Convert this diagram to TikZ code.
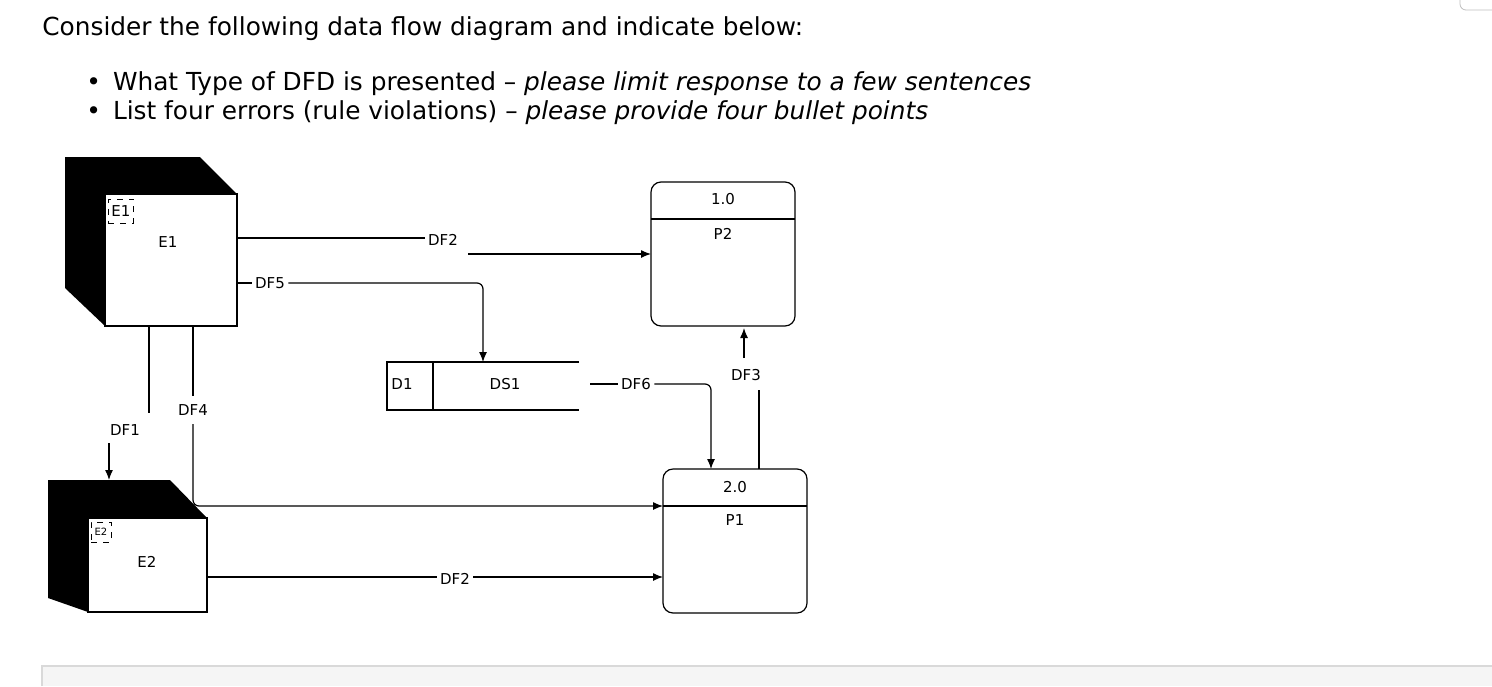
\documentclass[tikz,border=0pt]{standalone}
\usepackage{fontspec}
\setmainfont{DejaVu Sans}
\usetikzlibrary{arrows.meta}
\tikzset{
  flow/.style={line width=0.6pt,rounded corners=3},
  lbl/.style={font=\fontsize{7.5}{8}\selectfont,inner sep=1.5pt},
  proc/.style={draw,line width=0.6pt,rounded corners=5},
  hdr/.style={anchor=base west,inner sep=0,font=\fontsize{12.4}{14}\selectfont},
}
\begin{document}
\begin{tikzpicture}[x=0.5pt,y=-0.5pt,>={Latex[length=5pt,width=4pt]}]
\useasboundingbox (0,0) rectangle (1492,686);
%the header text
    \node[hdr] (q) at (42,35) {Consider the following data flow diagram and indicate below:};
    \node[hdr] (b1) at (86,90) {\textbullet\hspace{6pt}What Type of DFD is presented -- \textit{please limit response to a few sentences}};
    \node[hdr] (b2) at (86,119) {\textbullet\hspace{6pt}List four errors (rule violations) -- \textit{please provide four bullet points}};
% the toolbar
    \fill[gray!8] (42,666) rectangle (1492,686);
    \draw[gray!30,line width=1.2pt] (42,686) -- (42,666) -- (1492,666);
    \draw[gray!50,rounded corners=3] (1460,-5) -- (1460,10) -- (1495,10);
% the externals
    \fill (65,157) -- (200,157) -- (237,194) -- (105,194) -- (105,326) -- (65,288) -- cycle;
    \draw[line width=0.6pt] (105,194) rectangle (237,326);
    \node[draw,dashed,thin,lbl,minimum size=12pt] (e1tag) at (121,211) {E1};
    \node[lbl] (e1) at (168,242) {E1};
    \fill (48,480) -- (170,480) -- (207,518) -- (88,518) -- (88,612) -- (48,598) -- cycle;
    \draw[line width=0.6pt] (88,518) rectangle (207,612);
    \node[draw,dashed,thin,lbl,minimum size=10pt,font=\fontsize{5}{5}\selectfont] (e2tag) at (101,532) {E2};
    \node[lbl] (e2) at (147,562) {E2};
% the processes
    \draw[proc] (651,182) rectangle (795,326);
    \draw[line width=0.6pt] (651,219) -- (795,219);
    \node[lbl] (p2n) at (723,199) {1.0};
    \node[lbl] (p2) at (723,234) {P2};
    \draw[proc] (663,469) rectangle (807,613);
    \draw[line width=0.6pt] (663,506) -- (807,506);
    \node[lbl] (p1n) at (735,487) {2.0};
    \node[lbl] (p1) at (735,520) {P1};
% the store
    \draw[line width=0.6pt] (579,362) -- (387,362) -- (387,410) -- (579,410);
    \draw[line width=0.6pt] (433,362) -- (433,410);
    \node[lbl] (d1) at (402,384) {D1};
    \node[lbl] (ds1) at (505,384) {DS1};
% the flows
    \node[lbl] (df2a) at (443,240) {DF2};
    \draw[flow] (237,238) -- (df2a.west |- 0,238);
    \draw[flow,->] (468,254) -- (651,254);
    \node[lbl] (df5) at (270,283) {DF5};
    \draw[flow] (237,283) -- (df5.west);
    \draw[flow,->] (df5.east) -- (483,283) -- (483,362);
    \node[lbl] (df6) at (636,384) {DF6};
    \draw[flow] (590,384) -- (df6.west);
    \draw[flow,->] (df6.east) -- (711,384) -- (711,469);
    \node[lbl] (df3) at (746,375) {DF3};
    \draw[flow] (759,469) -- (759,390);
    \draw[flow,->] (744,358) -- (744,328);
    \node[lbl] (df1) at (125,430) {DF1};
    \draw[flow] (149,326) -- (149,413);
    \draw[flow,->] (109,443) -- (109,480);
    \node[lbl] (df4) at (193,410) {DF4};
    \draw[flow] (193,326) -- (193,396);
    \draw[flow,->] (193,424) -- (193,506) -- (663,506);
    \node[lbl] (df2b) at (455,579) {DF2};
    \draw[flow] (207,577) -- (df2b.west |- 0,577);
    \draw[flow,->] (df2b.east |- 0,577) -- (663,577);
\end{tikzpicture}
\end{document}
